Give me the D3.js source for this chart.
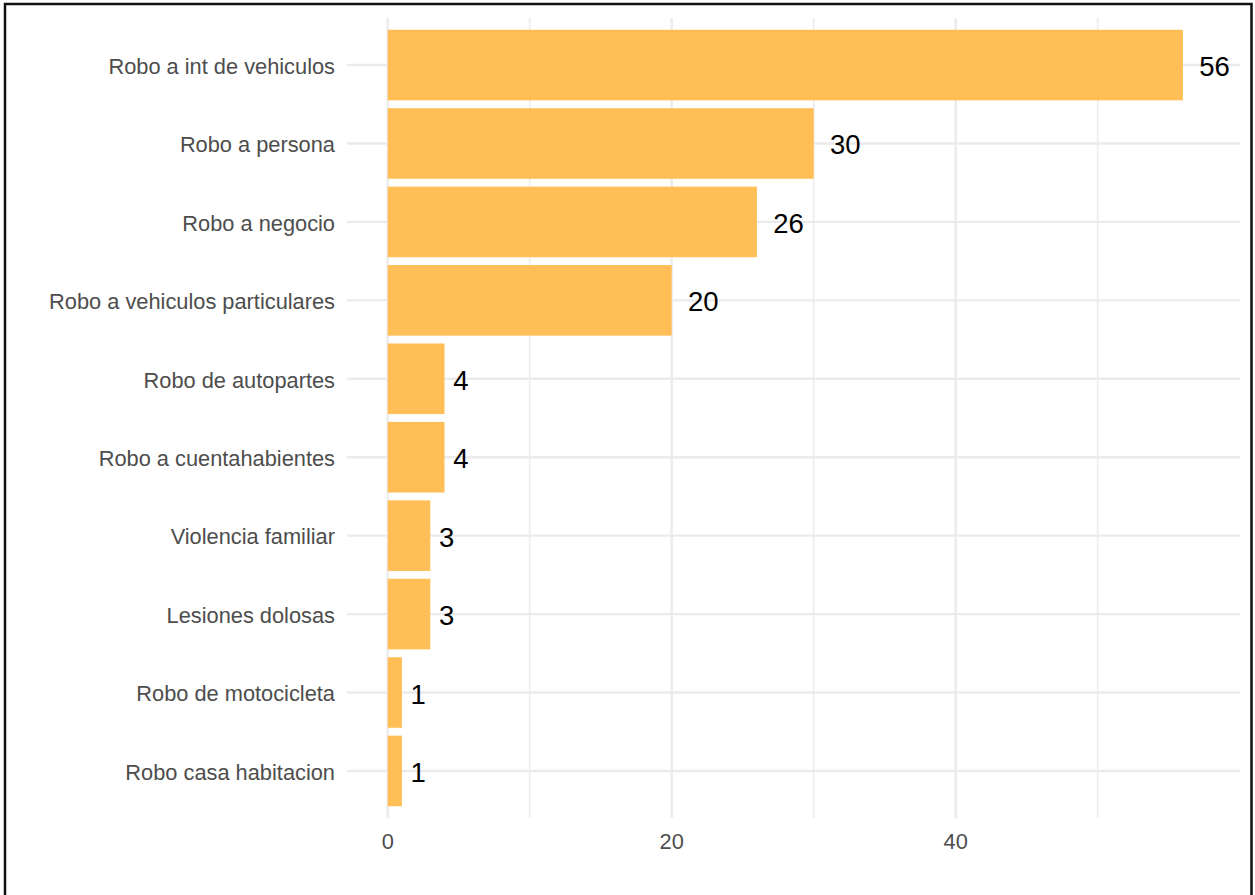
<!DOCTYPE html>
<html><head><meta charset="utf-8">
<script src="https://cdn.jsdelivr.net/npm/d3@7"></script>
<style>body{margin:0;background:#fff;} svg{display:block;}</style>
</head><body>
<svg id="c" width="1255" height="895"></svg>
<script>
const categories = ["Robo a int de vehiculos","Robo a persona","Robo a negocio","Robo a vehiculos particulares","Robo de autopartes","Robo a cuentahabientes","Violencia familiar","Lesiones dolosas","Robo de motocicleta","Robo casa habitacion"];
const values = [56,30,26,20,4,4,3,3,1,1];
const majorTicks = [0,20,40];
const minorTicks = [10,30,50];

const svg = d3.select("#c");
const font = "Liberation Sans, Arial, sans-serif";
const panel = {left:347, right:1240, top:18, bottom:818};

const x = d3.scaleLinear().domain([-2.866, 60.02]).range([panel.left, panel.right]);
// ggplot-style discrete scale: 0.6 step expansion each side, bar width 0.9 of step
const y = d3.scalePoint().domain(categories)
  .range([panel.top, panel.bottom]).padding(0.6);
const step = y.step();
const yc = d => y(d);
const bh = step * 0.9;

// border (left, top, right)
svg.append("path").attr("d","M5,900 L5,4 L1251.5,4 L1251.5,900").attr("fill","none").attr("stroke","#111").attr("stroke-width",2.5);

const g = svg.append("g");
g.selectAll(".minor").data(minorTicks).join("line")
  .attr("x1",d=>x(d)).attr("x2",d=>x(d)).attr("y1",panel.top).attr("y2",panel.bottom)
  .attr("stroke","#EEEEEE").attr("stroke-width",1.8);
g.selectAll(".major").data(majorTicks).join("line")
  .attr("x1",d=>x(d)).attr("x2",d=>x(d)).attr("y1",panel.top).attr("y2",panel.bottom)
  .attr("stroke","#EBEBEB").attr("stroke-width",2.4);
g.selectAll(".hgrid").data(categories).join("line")
  .attr("x1",panel.left).attr("x2",panel.right).attr("y1",d=>yc(d)).attr("y2",d=>yc(d))
  .attr("stroke","#EBEBEB").attr("stroke-width",2.4);

g.selectAll(".bar").data(categories).join("rect")
  .attr("x",x(0)).attr("y",d=>yc(d)-bh/2)
  .attr("width",(d,i)=>x(values[i])-x(0)).attr("height",bh)
  .attr("fill","#FFBF56");

g.selectAll(".val").data(categories).join("text")
  .text((d,i)=>values[i])
  .attr("y",d=>yc(d)).attr("dy","0.4em")
  .attr("font-family",font).attr("font-size",27.5).attr("fill","#000")
  .attr("x",(d,i)=>x(values[i]))
  .each(function(d,i){ const w=this.getComputedTextLength(); d3.select(this).attr("x", x(values[i]) + 0.5*w + 1); });

g.selectAll(".ylab").data(categories).join("text")
  .text(d=>d).attr("x",335).attr("y",d=>yc(d)).attr("dy","0.4em")
  .attr("text-anchor","end").attr("font-family",font).attr("font-size",21.8).attr("fill","#4D4D4D");

g.selectAll(".xlab").data(majorTicks).join("text")
  .text(d=>d).attr("x",d=>x(d)).attr("y",848.5)
  .attr("text-anchor","middle").attr("font-family",font).attr("font-size",21.8).attr("fill","#4D4D4D");
</script>
</body></html>
